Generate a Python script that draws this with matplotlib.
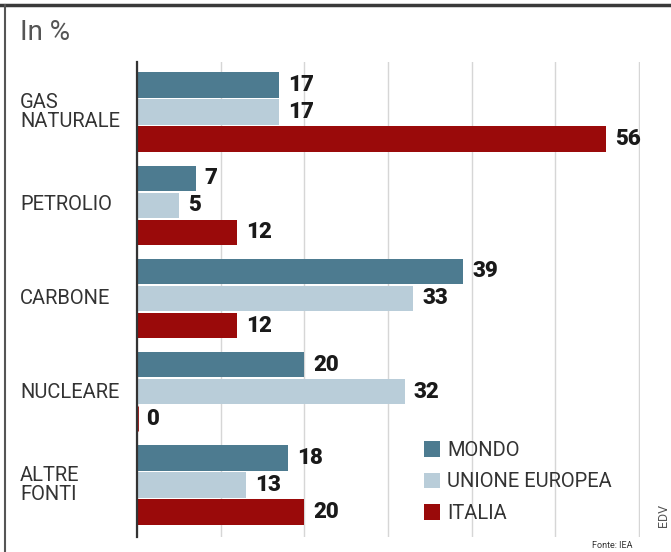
import matplotlib.pyplot as plt
import numpy as np
from matplotlib.patches import Patch
from matplotlib.lines import Line2D

categories = ['GAS\nNATURALE', 'PETROLIO', 'CARBONE', 'NUCLEARE', 'ALTRE\nFONTI']
series = ['MONDO', 'UNIONE EUROPEA', 'ITALIA']
mondo = [17, 7, 39, 20, 18]
ue = [17, 5, 33, 32, 13]
italia = [56, 12, 12, 0, 20]
x_ticks = [0, 10, 20, 30, 40, 50, 60]

colors = ['#4d7b90', '#b9cdd9', '#9a0a0a']
FONT = ['Roboto', 'DejaVu Sans']

W, H = 671, 552
fig = plt.figure(figsize=(W / 100, H / 100), dpi=100)

# axes box in pixels: x 137..640, y 62..537
ax = fig.add_axes([137 / W, 1 - 537 / H, (640 - 137) / W, (537 - 62) / H])

y = np.arange(len(categories))
bh = 0.27
off = 0.29
for i, (vals, col) in enumerate(zip([mondo, ue, italia], colors)):
    pos = y + (i - 1) * off
    for p, v in zip(pos, vals):
        ax.barh(p, v, height=bh, color=col, edgecolor=col,
                linewidth=2 if v == 0 else 0, zorder=3)
        ax.annotate(str(v), (v, p), xytext=(6.5, 0), textcoords='offset points',
                    va='center', ha='left', fontsize=16, fontweight='black',
                    color='#1a1a1a', family=FONT)

ax.set_xlim(0, 60.1)
ax.set_ylim(4 + 52 / 93.25, -50 / 93.25)
ax.set_xticks(x_ticks)
ax.set_xticklabels([])
ax.set_yticks([])
ax.tick_params(length=0)
ax.grid(axis='x', color='#d6d6d6', linewidth=1, zorder=0)
for s in ['top', 'right', 'bottom']:
    ax.spines[s].set_visible(False)
ax.spines['left'].set_color('#333333')
ax.spines['left'].set_linewidth(1.6)
ax.spines['left'].set_zorder(4)

# category labels
for c, yy in zip(categories, [112, 205, 299, 392, 485]):
    fig.text(20 / W, 1 - yy / H, c, ha='left', va='center', fontsize=14.5,
             color='#333333', family=FONT, linespacing=0.95)

fig.text(20 / W, 1 - 33 / H, 'In %', ha='left', va='center', fontsize=20,
         color='#555555', family=FONT)

# legend
handles = [Patch(facecolor=c, edgecolor='none') for c in colors]
leg = ax.legend(handles, series, loc='upper left',
                bbox_to_anchor=(424 / W, 1 - 441 / H),
                bbox_transform=fig.transFigure, frameon=False,
                handlelength=0.8, handleheight=0.8, handletextpad=0.35,
                labelspacing=0.62, borderpad=0, borderaxespad=0,
                prop={'family': FONT, 'size': 14.5})
for t in leg.get_texts():
    t.set_color('#333333')

fig.text(592 / W, 1 - 546 / H, 'Fonte: IEA', ha='left', va='center',
         fontsize=6.5, color='#333333', family=FONT)
fig.text(664 / W, 1 - 515 / H, 'EDV', ha='center', va='center', rotation=90,
         fontsize=9, color='#555555', family=FONT)

# frame lines
fig.add_artist(Line2D([0, 1], [1 - 5 / H, 1 - 5 / H], transform=fig.transFigure,
                      color='#3a3a3a', linewidth=2.5))
fig.add_artist(Line2D([5 / W, 5 / W], [0, 1 - 5 / H], transform=fig.transFigure,
                      color='#555555', linewidth=1.5))

fig.savefig('out.png', dpi=100)
